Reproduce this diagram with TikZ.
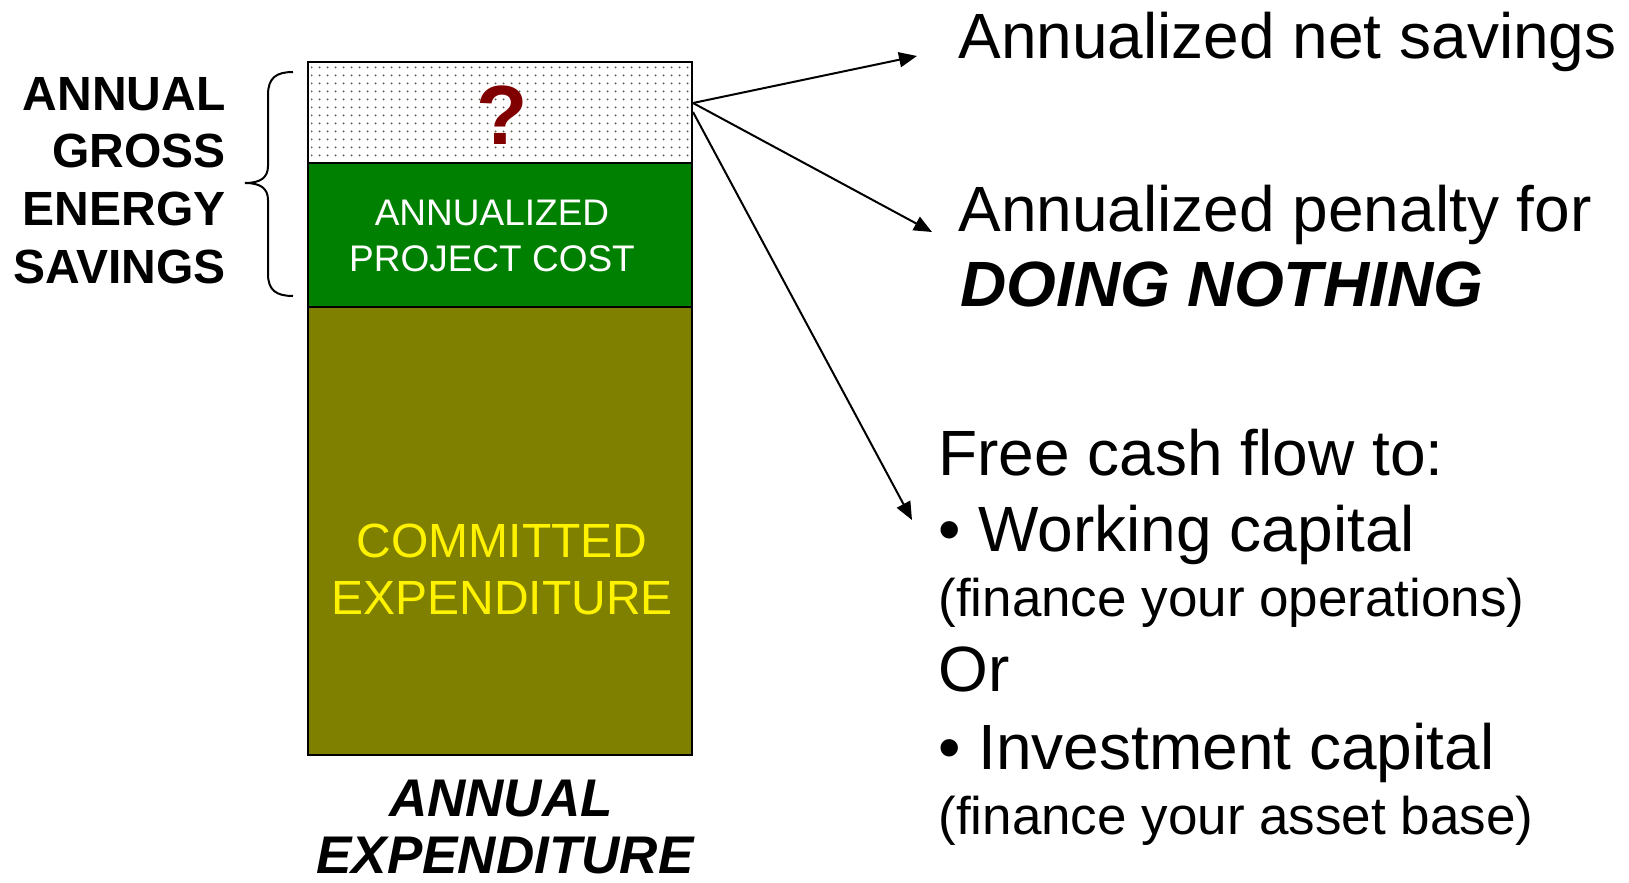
\documentclass[tikz,border=0pt]{standalone}
\usepackage{fontspec}
\setmainfont{Liberation Sans}
\usetikzlibrary{arrows.meta,patterns.meta}
\definecolor{costgreen}{HTML}{008000}
\definecolor{commitolive}{HTML}{808000}
\definecolor{qred}{HTML}{800000}
\definecolor{dotgray}{HTML}{5E5E48}
\begin{document}
\begin{tikzpicture}[x=0.5pt,y=-0.5pt,
  barpart/.style={draw=black,line width=1.2pt,minimum width=192pt,inner sep=0pt,outer sep=0pt},
  sidelabel/.style={font=\fontsize{24}{26}\selectfont\bfseries,inner sep=0pt},
  righttext/.style={font=\fontsize{32}{36}\selectfont,inner sep=0pt,anchor=base west},
  subtext/.style={font=\fontsize{26.5}{30}\selectfont,inner sep=0pt,anchor=base west},
  flow/.style={line width=1pt,-{Triangle[length=9pt,width=7.5pt]}}]
\useasboundingbox (0,0) rectangle (1629,883);

% stacked bar of annual expenditure
\node[barpart,minimum height=224pt,fill=commitolive,anchor=north west] (committed) at (308,307) {};
\node[barpart,minimum height=72pt,fill=costgreen,anchor=north west] (cost) at (308,163) {};
\node[barpart,minimum height=50.5pt,fill=white,anchor=north west] (net) at (308,62) {};
\fill[pattern={Dots[distance=4pt,radius=0.6pt]},pattern color=dotgray]
  ([shift={(3,3)}]net.north west) rectangle ([shift={(-3,-2)}]net.south east);
\draw[line width=1.2pt] (net.north west) rectangle (net.south east);

% labels inside the bar
\node[font=\fontsize{42}{44}\selectfont\bfseries,text=qred,anchor=base,inner sep=0pt] (q) at (502,145) {?};
\node[font=\fontsize{18.5}{20}\selectfont,text=white,anchor=base,inner sep=0pt] (c1) at (492,226) {ANNUALIZED};
\node[font=\fontsize{18.5}{20}\selectfont,text=white,anchor=base,inner sep=0pt] (c2) at (492,271) {PROJECT COST};
\node[font=\fontsize{24}{26}\selectfont,text=yellow,anchor=base,inner sep=0pt] (e1) at (502,557) {COMMITTED};
\node[font=\fontsize{24}{26}\selectfont,text=yellow,anchor=base,inner sep=0pt] (e2) at (502,614) {EXPENDITURE};

% caption under the bar
\node[font=\fontsize{26.5}{28}\selectfont\bfseries\itshape,anchor=base,inner sep=0pt] (a1) at (501,816) {ANNUAL};
\node[font=\fontsize{26.5}{28}\selectfont\bfseries\itshape,anchor=base,inner sep=0pt] (a2) at (505,873) {EXPENDITURE};

% gross savings label and brace
\node[sidelabel,anchor=base east] (g1) at (226,111) {ANNUAL};
\node[sidelabel,anchor=base east] (g2) at (226,168) {GROSS};
\node[sidelabel,anchor=base east] (g3) at (226,225.5) {ENERGY};
\node[sidelabel,anchor=base east] (g4) at (226,283) {SAVINGS};
\draw[line width=1pt] (293,72) .. controls (276,72) and (268,78) .. (268,95)
  -- (268,166) .. controls (268,178) and (260,183) .. (245,183)
  .. controls (260,183) and (268,188) .. (268,200)
  -- (268,274) .. controls (268,290) and (276,296) .. (293,296);

% outcomes
\node[righttext] (t1) at (958,59) {Annualized net savings};
\node[righttext] (t2) at (958,231) {Annualized penalty for};
\node[righttext,font=\fontsize{32}{36}\selectfont\bfseries\itshape] (t3) at (960,306) {DOING NOTHING};
\node[righttext] (t4) at (938,475) {Free cash flow to:};
\node[righttext] (t5) at (938,551) {• Working capital};
\node[subtext] (t6) at (938,616) {(finance your operations)};
\node[righttext] (t7) at (938,691) {Or};
\node[righttext] (t8) at (938,769) {• Investment capital};
\node[subtext] (t9) at (938,834) {(finance your asset base)};

% arrows from the unknown remainder
\coordinate (s1) at (693,103);
\coordinate (s3) at (693,112);
\coordinate (h1) at (917,56);
\coordinate (h2) at (932,232);
\coordinate (h3) at (912,520);
\draw[flow] (s1) -- (h1);
\draw[flow] (s1) -- (h2);
\draw[flow] (s3) -- (h3);
\end{tikzpicture}
\end{document}
